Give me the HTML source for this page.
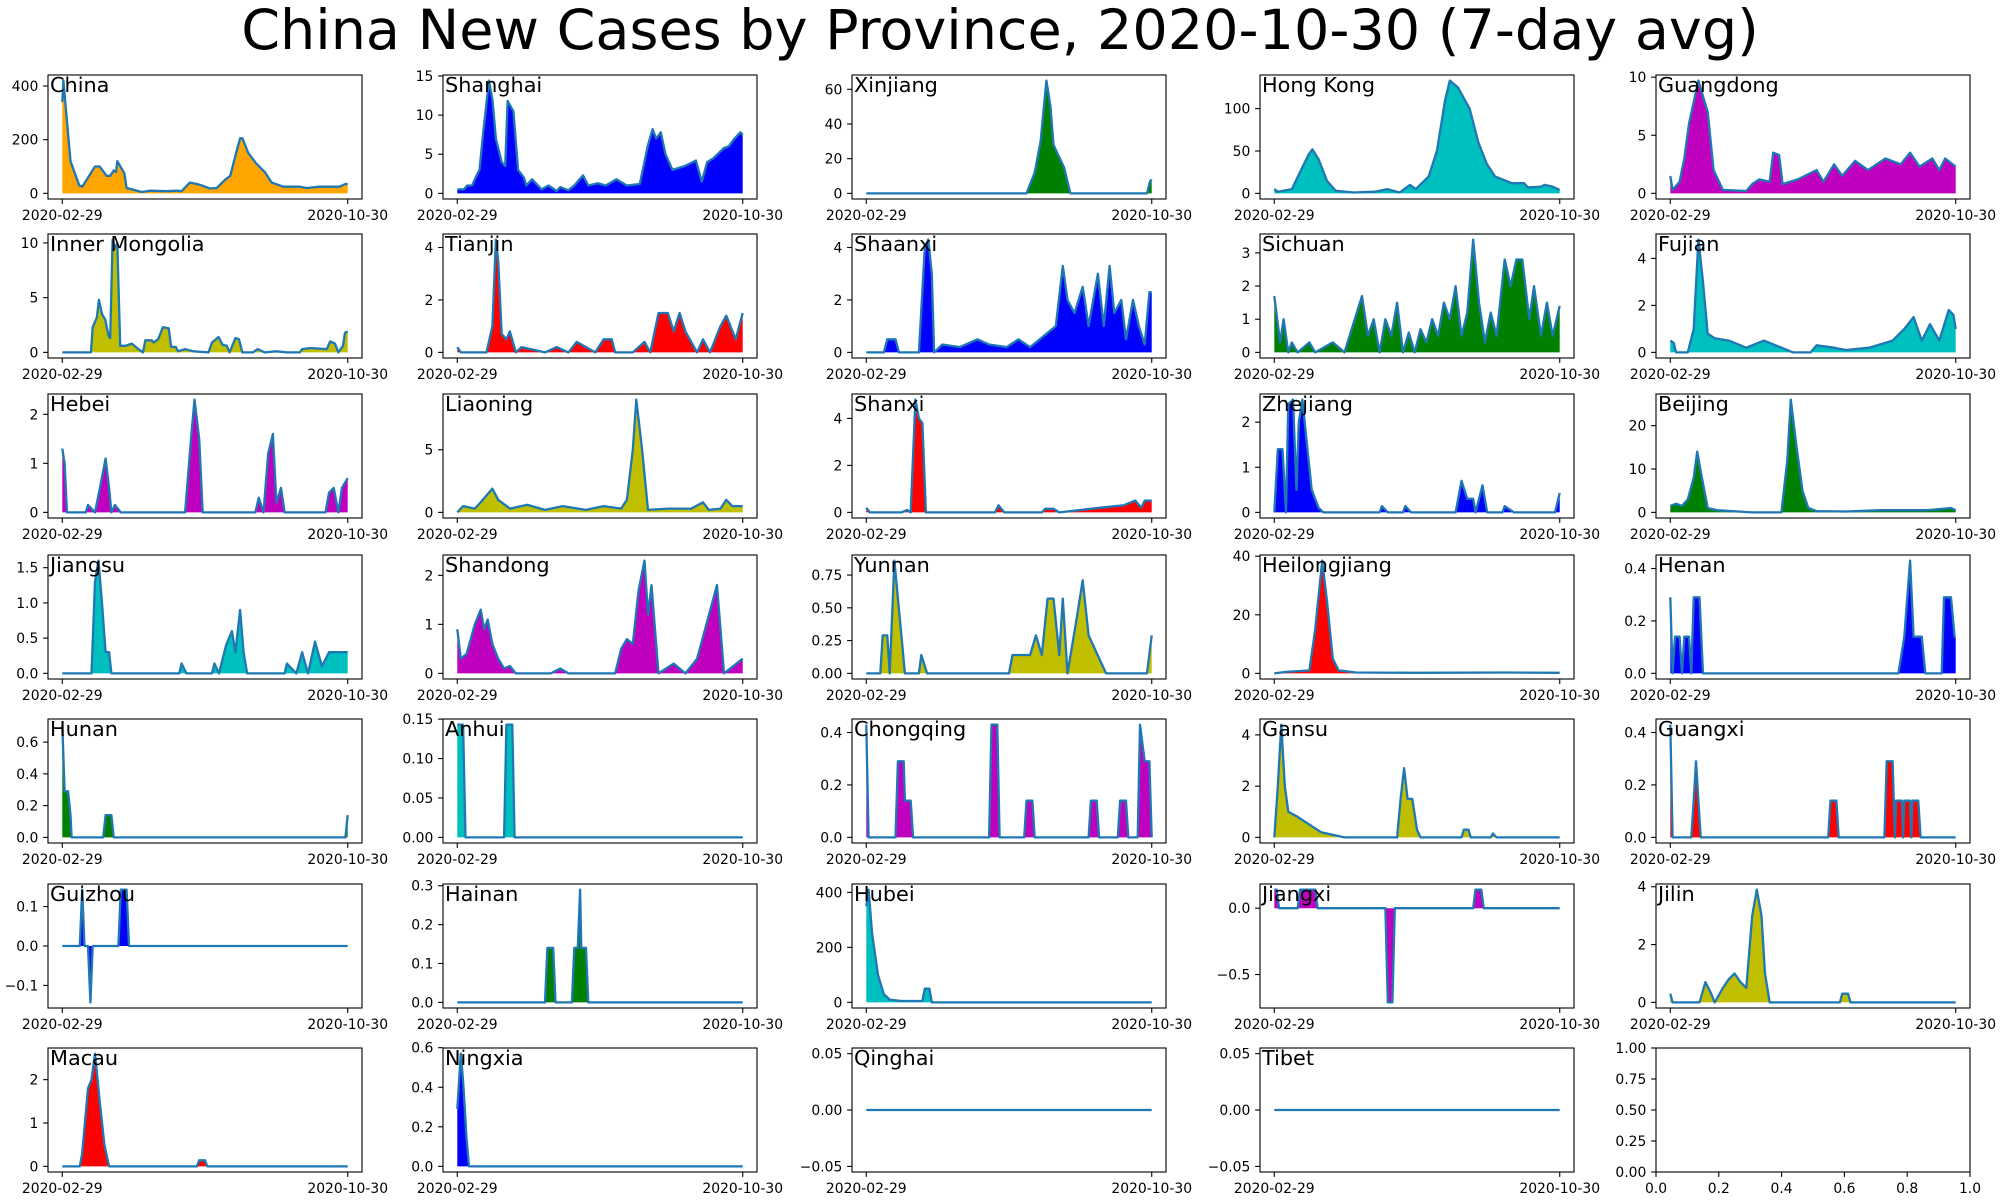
<!DOCTYPE html>
<html><head><meta charset="utf-8"><style>
html,body{margin:0;padding:0;background:#fff;}
svg{display:block;font-family:"DejaVu Sans","Liberation Sans",sans-serif;}
</style></head><body>
<svg id="chart" width="2000" height="1200" viewBox="0 0 2000 1200" xmlns="http://www.w3.org/2000/svg">
<rect width="2000" height="1200" fill="#fff"/>
<text x="1000" y="49" text-anchor="middle" font-size="55.6" fill="#000">China New Cases by Province, 2020-10-30 (7-day avg)</text>
</svg>
<script>
const provinceNames = ['China','Shanghai','Xinjiang','Hong Kong','Guangdong','Inner Mongolia','Tianjin','Shaanxi','Sichuan','Fujian','Hebei','Liaoning','Shanxi','Zhejiang','Beijing','Jiangsu','Shandong','Yunnan','Heilongjiang','Henan','Hunan','Anhui','Chongqing','Gansu','Guangxi','Guizhou','Hainan','Hubei','Jiangxi','Jilin','Macau','Ningxia','Qinghai','Tibet'];
const fillColors = ['#ffa500','#0000ff','#008000','#00bfbf','#bf00bf','#bfbf00','#ff0000','#0000ff','#008000','#00bfbf','#bf00bf','#bfbf00','#ff0000','#0000ff','#008000','#00bfbf','#bf00bf','#bfbf00','#ff0000','#0000ff','#008000','#00bfbf','#bf00bf','#bfbf00','#ff0000','#0000ff','#008000','#00bfbf','#bf00bf','#bfbf00','#ff0000','#0000ff','#008000','#00bfbf'];
const dateLabels = ['2020-02-29','2020-10-30'];
const totalDays = 244;
// [day, value] pairs
const china = [[0,340],[1,420],[7,120],[14.5,30],[17,25],[28,100],[32,100],[38,65],[41,65],[44,85],[46,80],[47,120],[53,75],[55,20],[64,10],[68,5],[75,10],[89,8],[98,10],[102,8],[109,40],[115,35],[119,30],[126,18],[132,20],[139,50],[143.5,65],[148.6,150],[152,205],[154,205],[159,150],[166,110],[173,80],[179,40],[189,25],[203,25],[209,20],[220,25],[237,25],[242,35],[244,35]];
const shanghai = [[0,0.5],[5.7,0.5],[8.5,1],[12.7,1],[15.6,2],[19,3],[22,7.5],[27,14.4],[30,12],[33,7],[38,4],[41,3.5],[43,11.8],[48,10.5],[52,3],[57,2],[59,1],[64,1.8],[69,1],[72,0.5],[78,1],[85,0.3],[88,0.8],[95,0.4],[100,1],[107.5,2.3],[112,1],[120,1.3],[127,1],[136,1.8],[145,1],[156,1.2],[163,6.2],[167,8.2],[170,7],[174,7.8],[178,5],[184,3],[194.5,3.5],[204,4.2],[209,1.5],[213.6,4],[219,4.5],[228,5.8],[232,6],[237,7],[242,7.8],[244,7.5]];
const xinjiang = [[0,0],[137,0],[144,12],[149,30],[154,65],[157.5,50],[160,28],[169,15],[174.5,0],[240,0],[242.6,7],[244,8]];
const hongKong = [[0,5],[3,2],[15,5],[22,25],[29,45],[32.6,52],[38,40],[45,15],[52.5,3],[68,1],[86,2],[96.5,5],[107,1],[116,10],[121,5],[132,20],[139,50],[146,110],[150,133],[157,125],[167,100],[174.5,60],[181.6,35],[188.7,20],[203,12],[213.5,12],[217,7],[228,8],[231,10],[238,8],[244,4]];
const guangdong = [[0,1.5],[2,0.3],[8,1],[12,3],[16,6],[24,9.7],[29,8],[32,7],[37,2],[45,0.3],[65,0.2],[70,0.8],[76,1.2],[85,1],[88,3.5],[93,3.3],[96,0.8],[109,1.2],[125,2],[131,1],[140,2.5],[147,1.5],[158,2.8],[169,2],[184,3],[197,2.5],[205,3.5],[213,2.3],[224,3],[230,2],[235,3],[244,2.3]];
const innerMongolia = [[0,0],[24.5,0],[26,2.3],[29.6,3.2],[31.3,4.8],[34,3.5],[36.7,3],[39.6,1.5],[41,1.3],[43,10.3],[45,9.5],[47,10],[49.5,0.6],[54,0.6],[59.5,0.8],[65,0.3],[69,0],[71,1.1],[76.6,1.1],[78,0.9],[82,1.2],[86,2.3],[91,2.2],[93,0.5],[97,0.5],[99,0.1],[105,0.3],[112,0.1],[125,0],[128,0.9],[133.5,1.4],[137,0.7],[140.6,0.6],[143,0],[148,1.3],[151,1.2],[154,0],[163,0],[167,0.3],[173,0],[183,0.1],[192,0],[203,0],[205,0.3],[212,0.4],[226,0.3],[229,1],[233,0.8],[236,0],[240,0.6],[241.7,1.8],[244,1.9]];
const tianjin = [[0,0.2],[3,0],[25,0],[30,1],[33,4.3],[35,3.5],[38,0.7],[42,0.5],[45,0.8],[50,0],[55,0.2],[65,0.1],[75,0],[85,0.2],[95,0],[102,0.4],[110,0.2],[118,0],[125,0.5],[132,0.5],[135,0],[150,0],[160,0.4],[165,0],[172,1.5],[180,1.5],[185,0.8],[190,1.5],[195,0.8],[205,0],[210,0.5],[216,0],[225,1],[230,1.4],[238,0.5],[244,1.5]];
const shaanxi = [[0,0],[15,0],[18,0.5],[25,0.5],[28,0],[45,0],[50,4],[53,4.3],[56,3],[58,0],[65,0.3],[80,0.2],[95,0.5],[105,0.3],[120,0.2],[130,0.5],[140,0.2],[162,1],[168,3.3],[172,2],[178,1.5],[185,2.5],[190,1],[198,3],[203,1],[208,3.3],[212,1.5],[218,2],[222,0.5],[228,2],[233,1],[238,0.3],[242,2.3],[244,2.3]];
const sichuan = [[0,1.7],[5,0.3],[8,1],[12,0],[15,0.3],[20,0],[30,0.3],[35,0],[50,0.3],[60,0],[75,1.7],[80,0.5],[85,1],[90,0],[95,1],[100,0.5],[105,1.5],[110,0],[115,0.6],[120,0],[125,0.7],[130,0.3],[135,1],[140,0.5],[145,1.5],[150,1],[155,2],[160,0.5],[165,1.2],[170,3.4],[175,1.5],[180,0.3],[185,1.2],[190,0.5],[197,2.8],[202,2],[207,2.8],[212,2.8],[218,1],[222,2],[228,0.5],[233,1.5],[238,0.5],[244,1.4]];
const fujian = [[0,0.5],[3,0.4],[5,0],[15,0],[20,1],[24,4.8],[28,3],[32,0.8],[38,0.6],[50,0.5],[65,0.2],[80,0.5],[90,0.3],[105,0],[120,0],[125,0.3],[140,0.2],[150,0.1],[170,0.2],[190,0.5],[200,1],[208,1.5],[215,0.5],[222,1.2],[230,0.5],[238,1.8],[242,1.6],[244,1]];
const hebei = [[0,1.3],[2,1],[4,0],[20,0],[22,0.15],[28,0],[33,0.6],[37,1.1],[40,0.5],[42,0],[45,0.15],[50,0],[105,0],[110,1.5],[113,2.3],[117,1.5],[120,0],[165,0],[168,0.3],[172,0],[176,1.2],[180,1.6],[183,0.2],[187,0.5],[190,0],[225,0],[228,0.4],[232,0.5],[236,0],[239,0.5],[244,0.7]];
const liaoning = [[0,0],[5,0.5],[15,0.3],[20,0.8],[30,1.9],[35,1],[45,0.3],[60,0.6],[75,0.2],[90,0.5],[110,0.2],[125,0.5],[140,0.3],[145,1],[150,5],[153,9],[158,5],[163,0.2],[180,0.3],[200,0.3],[210,0.8],[215,0.2],[225,0.3],[230,1],[235,0.5],[244,0.5]];
const shanxi = [[0,0.2],[3,0],[30,0],[35,0.1],[38,0],[42,4.8],[45,4],[48,3.8],[51,0],[110,0],[113,0.3],[118,0],[150,0],[153,0.15],[160,0.15],[165,0],[200,0.2],[220,0.3],[230,0.5],[235,0.2],[238,0.5],[244,0.5]];
const zhejiang = [[0,0],[3,1.4],[7,1.4],[10,0],[12,2.4],[16,2.5],[19,0.5],[21,2],[24,2.5],[28,1.5],[32,0.5],[38,0.1],[42,0],[90,0],[92,0.14],[97,0],[110,0],[112,0.14],[117,0],[155,0],[160,0.7],[165,0.3],[170,0.3],[172,0],[178,0.6],[182,0],[195,0],[197,0.14],[205,0],[240,0],[244,0.43]];
const beijing = [[0,1.5],[5,2],[10,1.5],[15,3],[20,8],[23,14],[27,8],[32,1],[40,0.5],[70,0],[95,0],[100,12],[103,26],[108,15],[113,5],[118,1],[125,0.3],[150,0.2],[180,0.5],[220,0.5],[240,1],[244,0.5]];
const jiangsu = [[0,0],[25,0],[28,1.3],[31,1.6],[34,1],[37,0.3],[40,0.3],[42,0],[100,0],[102,0.14],[106,0],[128,0],[130,0.14],[134,0],[140,0.4],[145,0.6],[148,0.3],[152,0.9],[155,0.3],[158,0],[190,0],[192,0.14],[200,0],[205,0.3],[210,0],[216,0.45],[222,0.1],[228,0.3],[244,0.3]];
const shandong = [[0,0.9],[3,0.3],[8,0.4],[15,1],[20,1.3],[23,0.9],[26,1.1],[30,0.6],[35,0.3],[40,0.1],[45,0.15],[50,0],[80,0],[88,0.1],[95,0],[135,0],[140,0.5],[145,0.7],[150,0.6],[155,1.7],[160,2.3],[163,1.2],[166,1.8],[172,0],[185,0.2],[195,0],[205,0.3],[222,1.8],[228,0],[244,0.3]];
const yunnan = [[0,0],[12,0],[14,0.29],[18,0.29],[20,0],[24,0.86],[27,0.57],[30,0.29],[33,0],[45,0],[47,0.14],[52,0],[122,0],[125,0.14],[140,0.14],[145,0.29],[150,0.14],[155,0.57],[160,0.57],[165,0.14],[168,0.57],[172,0],[180,0.43],[185,0.71],[190,0.29],[205,0],[240,0],[244,0.29]];
const heilongjiang = [[0,0],[10,0.5],[30,1],[35,15],[41,38.5],[45,25],[50,5],[55,1],[70,0.3],[120,0.2],[200,0.3],[244,0.2]];
const henan = [[0,0.29],[2,0],[4,0.14],[8,0.14],[10,0],[12,0.14],[16,0.14],[18,0],[20,0.29],[25,0.29],[28,0],[195,0],[200,0.14],[205,0.43],[208,0.14],[215,0.14],[218,0],[232,0],[234,0.29],[240,0.29],[243,0.14],[244,0.14]];
const hunan = [[0,0.71],[2,0.29],[5,0.29],[7,0.14],[8,0],[35,0],[37,0.14],[42,0.14],[44,0],[242,0],[244,0.14]];
const anhui = [[0,0.143],[5,0.143],[7,0],[40,0],[42,0.143],[47,0.143],[49,0],[244,0]];
const chongqing = [[0,0.43],[2,0],[25,0],[27,0.29],[32,0.29],[33,0.14],[38,0.14],[40,0],[105,0],[107,0.43],[112,0.43],[114,0],[135,0],[137,0.14],[142,0.14],[144,0],[190,0],[192,0.14],[197,0.14],[199,0],[215,0],[217,0.14],[222,0.14],[224,0],[232,0],[234,0.43],[238,0.29],[242,0.29],[244,0]];
const gansu = [[0,0],[3,2],[6,4.4],[9,2],[12,1],[20,0.8],[30,0.5],[40,0.2],[60,0],[105,0],[108,1.5],[111,2.7],[114,1.5],[118,1.5],[122,0.3],[125,0],[160,0],[162,0.3],[166,0.3],[168,0],[185,0],[187,0.15],[190,0],[244,0]];
const guangxi = [[0,0.43],[2,0],[18,0],[20,0.14],[22,0.29],[24,0.14],[26,0],[135,0],[137,0.14],[142,0.14],[144,0],[183,0],[185,0.29],[190,0.29],[192,0],[193,0.14],[198,0.14],[199,0],[200,0.14],[205,0.14],[206,0],[207,0.14],[212,0.14],[214,0],[244,0]];
const guizhou = [[0,0],[15,0],[17,0.143],[19,0],[22,0],[24,-0.143],[26,0],[48,0],[50,0.143],[55,0.143],[57,0],[244,0]];
const hainan = [[0,0],[75,0],[77,0.14],[82,0.14],[84,0],[98,0],[100,0.14],[103,0.14],[105,0.29],[106,0.14],[110,0.14],[112,0],[244,0]];
const hubei = [[0,350],[2,410],[5,250],[10,100],[15,30],[20,10],[30,5],[48,5],[50,50],[54,50],[56,0],[244,0]];
const jiangxi = [[0,0.14],[2,0.14],[4,0],[20,0],[22,0.14],[35,0.14],[37,0],[95,0],[97,-0.71],[101,-0.71],[103,0],[170,0],[172,0.14],[177,0.14],[179,0],[244,0]];
const jilin = [[0,0.3],[2,0],[25,0],[30,0.7],[35,0.3],[38,0],[45,0.5],[50,0.8],[55,1],[60,0.7],[65,0.5],[70,3],[74,3.9],[78,3],[81,1],[85,0],[145,0],[147,0.3],[152,0.3],[154,0],[244,0]];
const macau = [[0,0],[15,0],[17,0.3],[22,1.8],[25,2],[28,2.6],[32,1.5],[36,0.5],[40,0],[115,0],[117,0.14],[122,0.14],[124,0],[244,0]];
const ningxia = [[0,0.29],[3,0.57],[5,0.43],[8,0.14],[10,0],[244,0]];
const qinghai = [[0,0],[244,0]];
const tibet = [[0,0],[244,0]];
const allSeries = [china,shanghai,xinjiang,hongKong,guangdong,innerMongolia,tianjin,shaanxi,sichuan,fujian,hebei,liaoning,shanxi,zhejiang,beijing,jiangsu,shandong,yunnan,heilongjiang,henan,hunan,anhui,chongqing,gansu,guangxi,guizhou,hainan,hubei,jiangxi,jilin,macau,ningxia,qinghai,tibet];
const yTickLabels = [
['0','200','400'],['0','5','10','15'],['0','20','40','60'],['0','50','100'],['0','5','10'],
['0','5','10'],['0','2','4'],['0','2','4'],['0','1','2','3'],['0','2','4'],
['0','1','2'],['0','5'],['0','2','4'],['0','1','2'],['0','10','20'],
['0.0','0.5','1.0','1.5'],['0','1','2'],['0.00','0.25','0.50','0.75'],['0','20','40'],['0.0','0.2','0.4'],
['0.0','0.2','0.4','0.6'],['0.00','0.05','0.10','0.15'],['0.0','0.2','0.4'],['0','2','4'],['0.0','0.2','0.4'],
['\u22120.1','0.0','0.1'],['0.0','0.1','0.2','0.3'],['0','200','400'],['\u22120.5','0.0'],['0','2','4'],
['0','1','2'],['0.0','0.2','0.4','0.6'],['\u22120.05','0.00','0.05'],['\u22120.05','0.00','0.05']
];
const emptyXTicks = ['0.0','0.2','0.4','0.6','0.8','1.0'];
const emptyYTicks = ['0.00','0.25','0.50','0.75','1.00'];

const NS='http://www.w3.org/2000/svg';
const svg=document.getElementById('chart');
const colLeft=[48,443,852,1260,1656], rowTop=[75,234,394,555,719,884,1048];
const PW=314, PH=124;
function mk(tag,attrs,parent){const e=document.createElementNS(NS,tag);for(const k in attrs)e.setAttribute(k,attrs[k]);(parent||svg).appendChild(e);return e;}
function slug(s){return s.toLowerCase().replace(/\s+/g,'-');}

for(let i=0;i<35;i++){
  const r=Math.floor(i/5), c=i%5;
  const L=colLeft[c], T=rowTop[r], B=T+PH, R=L+PW;
  const g=mk('g',{});
  
  
  if(i===34){
    const fr=mk('rect',{x:L,y:T,width:PW,height:PH,fill:'none',stroke:'#000','stroke-width':1.1},g);
    
    
    emptyXTicks.forEach(t=>{const v=parseFloat(t);const x=L+v*PW;
      mk('line',{x1:x,x2:x,y1:B,y2:B+4.9,stroke:'#000','stroke-width':1.1},g);
      const tx=mk('text',{x:x,y:B+21,'text-anchor':'middle','font-size':13.9},g);tx.textContent=t;
      
      });
    emptyYTicks.forEach(t=>{const v=parseFloat(t);const y=B-v*PH;
      mk('line',{x1:L,x2:L-4.9,y1:y,y2:y,stroke:'#000','stroke-width':1.1},g);
      const tx=mk('text',{x:L-9.7,y:y+5,'text-anchor':'end','font-size':13.9},g);tx.textContent=t;
      
      });
    continue;
  }
  const data=allSeries[i];
  let mn=0,mx=0;data.forEach(p=>{mn=Math.min(mn,p[1]);mx=Math.max(mx,p[1]);});
  let y0,y1;
  if(mx===mn){y0=-0.055;y1=0.055;}else{const rg=mx-mn;y0=mn-0.05*rg;y1=mx+0.05*rg;}
  const xs=d=>L+(d+totalDays*0.05)/(totalDays*1.1)*PW;
  const ys=v=>B-(v-y0)/(y1-y0)*PH;
  const cid='clip'+i;
  const cp=mk('clipPath',{id:cid},g);mk('rect',{x:L,y:T,width:PW,height:PH},cp);
  const pts=data.map(p=>xs(p[0]).toFixed(1)+','+ys(p[1]).toFixed(1));
  const fillPts=[xs(data[0][0]).toFixed(1)+','+ys(0).toFixed(1)].concat(pts,[xs(data[data.length-1][0]).toFixed(1)+','+ys(0).toFixed(1)]);
  const area=mk('polygon',{points:fillPts.join(' '),fill:fillColors[i],stroke:'none','clip-path':'url(#'+cid+')'},g);
  
  
  const line=mk('polyline',{points:pts.join(' '),fill:'none',stroke:'#1f77b4','stroke-width':2.3,'stroke-linejoin':'round','clip-path':'url(#'+cid+')'},g);
  
  
  const fr=mk('rect',{x:L,y:T,width:PW,height:PH,fill:'none',stroke:'#000','stroke-width':1.1},g);
  
  
  [0,totalDays].forEach((d,k)=>{const x=xs(d);
    mk('line',{x1:x,x2:x,y1:B,y2:B+4.9,stroke:'#000','stroke-width':1.1},g);
    const tx=mk('text',{x:x,y:B+21,'text-anchor':'middle','font-size':13.9},g);tx.textContent=dateLabels[k];
    
    });
  yTickLabels[i].forEach(t=>{const v=parseFloat(t.replace('\u2212','-'));
    if(v<y0-1e-3*(y1-y0)||v>y1+1e-2*(y1-y0))return;
    const y=ys(v);
    mk('line',{x1:L,x2:L-4.9,y1:y,y2:y,stroke:'#000','stroke-width':1.1},g);
    const tx=mk('text',{x:L-9.7,y:y+5,'text-anchor':'end','font-size':13.9},g);tx.textContent=t;
    
    });
  const lb=mk('text',{x:L+2,y:T+17,'font-size':20.8,fill:'#000'},g);lb.textContent=provinceNames[i];
  
  
}
</script>
</body></html>
